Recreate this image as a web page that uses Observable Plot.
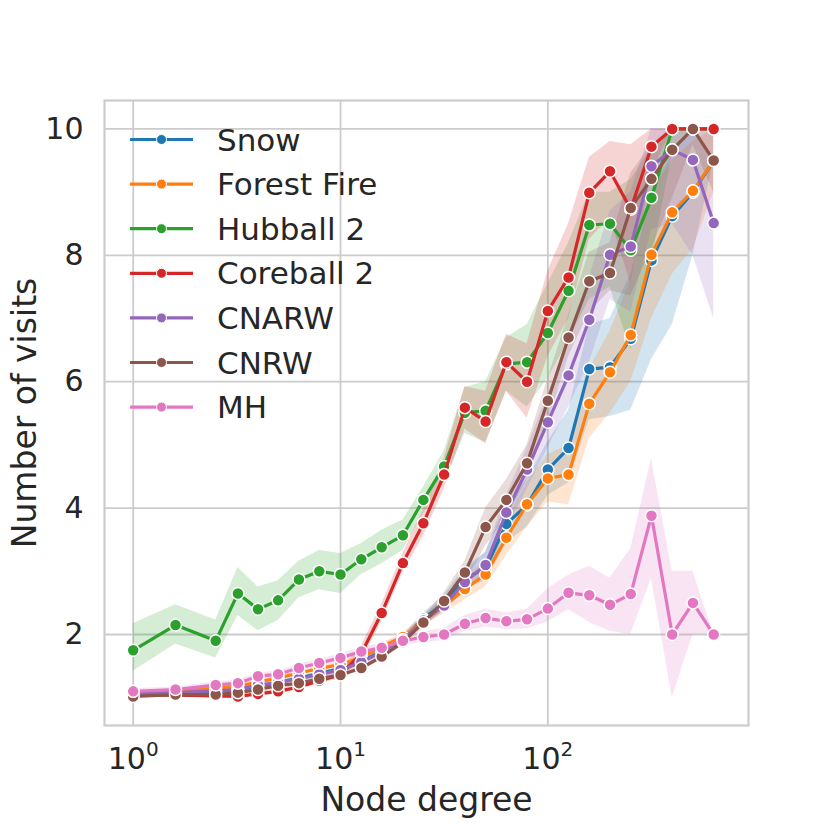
<!DOCTYPE html>
<html><head><meta charset="utf-8">
<script src="https://cdn.jsdelivr.net/npm/d3@7"></script>
<script src="https://cdn.jsdelivr.net/npm/@observablehq/plot@0.6"></script>
<style>body{margin:0;background:#fff} #chart{width:830px;height:830px}</style>
</head><body><div id="chart"></div><script>
const degrees = [1, 1.6, 2.5, 3.2, 4, 5, 6.3, 7.9, 10, 12.6, 15.8, 20, 25.1, 31.6, 39.8, 50.1, 63.1, 79.4, 100, 125.9, 158.5, 199.5, 251.2, 316.2, 398.1, 501.2, 631];
const seriesNames = ["Snow", "Forest Fire", "Hubball 2", "Coreball 2", "CNARW", "CNRW", "MH"];
const seriesColors = ["#1f77b4", "#ff7f0e", "#2ca02c", "#d62728", "#9467bd", "#8c564b", "#e377c2"];
const xTicks = [1, 10, 100];
const yTicks = [2, 4, 6, 8, 10];

const snowMean = [1.06,1.08,1.10,1.13,1.18,1.24,1.31,1.38,1.46,1.57,1.74,1.93,2.25,2.50,2.88,3.05,3.75,4.05,4.61,4.95,6.20,6.23,6.68,7.92,8.62,9.00,9.50];
const snowLo   = [1.03,1.05,1.07,1.10,1.15,1.21,1.28,1.35,1.42,1.52,1.68,1.87,2.16,2.38,2.72,2.85,3.45,3.70,4.20,4.40,5.40,5.45,5.55,6.35,6.90,8.00,9.50];
const snowHi   = [1.09,1.11,1.13,1.16,1.21,1.27,1.34,1.41,1.50,1.62,1.80,1.99,2.34,2.62,3.05,3.30,4.05,4.45,5.05,5.55,6.90,7.00,7.70,9.00,9.60,10,9.50];

const ffMean = [1.08,1.10,1.15,1.18,1.25,1.31,1.39,1.46,1.53,1.63,1.81,1.96,2.22,2.45,2.72,2.95,3.53,4.06,4.47,4.53,5.65,6.15,6.74,8.01,8.68,9.02,9.50];
const ffLo   = [1.05,1.07,1.12,1.15,1.22,1.28,1.36,1.43,1.49,1.58,1.76,1.90,2.14,2.33,2.55,2.75,3.25,3.70,4.10,4.05,5.10,5.50,6.00,7.00,7.70,8.10,9.00];
const ffHi   = [1.11,1.13,1.18,1.21,1.28,1.34,1.42,1.49,1.57,1.68,1.86,2.02,2.30,2.57,2.90,3.15,3.80,4.40,4.85,5.00,6.20,6.80,7.60,9.00,9.50,9.80,10];

const hubMean = [1.75,2.15,1.90,2.65,2.40,2.54,2.87,3.00,2.95,3.19,3.38,3.57,4.13,4.66,5.51,5.54,6.28,6.31,6.77,7.44,8.48,8.50,8.08,8.91,10,10,10];
const hubLo   = [1.42,1.85,1.63,2.30,2.06,2.22,2.58,2.71,2.65,2.95,3.12,3.33,3.91,4.40,5.18,5.04,5.85,5.60,6.05,6.65,7.30,7.50,6.50,7.90,9.60,10,10];
const hubHi   = [2.17,2.47,2.23,3.06,2.75,2.85,3.16,3.33,3.28,3.44,3.65,3.81,4.33,4.90,5.91,6.00,6.70,6.90,7.55,8.20,9.00,9.00,9.20,9.70,10,10,10];

const coreMean = [1.04,1.04,1.03,1.02,1.06,1.10,1.17,1.27,1.36,1.70,2.34,3.13,3.76,4.53,5.59,5.37,6.31,6.00,7.12,7.65,8.99,9.33,8.73,9.72,10,10,10];
const coreLo   = [1.00,1.01,1.00,0.99,1.03,1.06,1.13,1.22,1.30,1.58,2.20,2.98,3.55,4.30,5.25,5.02,5.85,5.42,6.40,7.00,8.25,8.60,7.55,9.30,10,10,10];
const coreHi   = [1.08,1.08,1.07,1.06,1.10,1.14,1.21,1.32,1.42,1.82,2.48,3.28,3.98,4.78,5.92,5.85,6.75,6.60,7.75,8.50,9.55,9.80,9.75,10,10,10,10];

const cnarwMean = [1.06,1.08,1.11,1.13,1.20,1.24,1.30,1.37,1.44,1.56,1.73,1.92,2.22,2.46,2.83,3.10,3.93,4.61,5.36,6.10,6.98,8.01,8.14,9.41,9.67,9.51,8.51];
const cnarwLo   = [1.03,1.05,1.08,1.10,1.16,1.20,1.26,1.33,1.40,1.51,1.68,1.86,2.14,2.36,2.68,2.90,3.65,4.30,4.95,5.60,6.30,7.30,7.10,8.40,8.50,8.00,7.00];
const cnarwHi   = [1.09,1.11,1.14,1.16,1.24,1.28,1.34,1.41,1.48,1.61,1.78,1.98,2.30,2.56,2.98,3.30,4.20,4.95,5.80,6.65,7.65,8.70,9.00,10,10,10,10];

const cnrwMean = [1.02,1.05,1.05,1.08,1.13,1.19,1.23,1.30,1.36,1.47,1.65,1.88,2.19,2.53,2.98,3.70,4.13,4.71,5.70,6.70,7.59,7.72,8.75,9.21,9.67,10.0,9.50];
const cnrwLo   = [0.99,1.02,1.02,1.05,1.10,1.16,1.20,1.26,1.32,1.42,1.60,1.82,2.10,2.40,2.80,3.40,3.85,4.45,5.35,6.40,7.10,7.44,7.36,8.10,8.90,9.75,9.00];
const cnrwHi   = [1.05,1.08,1.08,1.11,1.16,1.22,1.26,1.34,1.40,1.52,1.70,1.94,2.28,2.66,3.16,4.00,4.45,5.00,6.05,7.05,8.05,8.20,9.30,9.75,10,10,10];

const mhMean = [1.10,1.13,1.20,1.23,1.34,1.37,1.47,1.55,1.63,1.73,1.79,1.90,1.96,2.00,2.17,2.26,2.21,2.24,2.41,2.66,2.62,2.47,2.64,3.88,2.00,2.50,2.00];
const mhLo   = [1.06,1.09,1.15,1.18,1.29,1.32,1.41,1.49,1.57,1.66,1.72,1.82,1.88,1.90,2.05,2.12,2.08,2.09,2.20,2.39,2.19,2.05,2.00,2.89,1.00,2.00,2.00];
const mhHi   = [1.14,1.17,1.25,1.28,1.39,1.42,1.53,1.61,1.69,1.80,1.86,1.98,2.04,2.10,2.30,2.40,2.34,2.40,2.72,2.94,3.08,2.89,3.36,4.78,3.00,3.00,2.00];

const means = [snowMean, ffMean, hubMean, coreMean, cnarwMean, cnrwMean, mhMean];
const los = [snowLo, ffLo, hubLo, coreLo, cnarwLo, cnrwLo, mhLo];
const his = [snowHi, ffHi, hubHi, coreHi, cnarwHi, cnrwHi, mhHi];

const rows = [];
seriesNames.forEach((s, i) => degrees.forEach((d, j) => rows.push({series: s, degree: d, mean: means[i][j], lo: los[i][j], hi: his[i][j]})));

const FONT = "DejaVu Sans";
const TEXT = "#262626";
const GRID = "#cccccc";

const bands = seriesNames.map((s, i) =>
  Plot.areaY(rows.filter(r => r.series === s), {x: "degree", y1: "lo", y2: "hi", fill: seriesColors[i], fillOpacity: 0.2}));
const perSeries = seriesNames.flatMap((s, i) => {
  const data = rows.filter(r => r.series === s);
  return [
    Plot.line(data, {x: "degree", y: "mean", stroke: seriesColors[i], strokeWidth: 3.2}),
    Plot.dot(data, {x: "degree", y: "mean", fill: seriesColors[i], r: 6, stroke: "white", strokeWidth: 1.5})
  ];
});

const plot = Plot.plot({
  width: 830, height: 830,
  marginLeft: 104, marginRight: 82, marginTop: 100, marginBottom: 105,
  style: {fontFamily: FONT, fontSize: "30px", color: TEXT, background: "#fff", overflow: "visible"},
  x: {type: "log", domain: [0.727, 929]},
  y: {domain: [0.56, 10.45]},
  marks: [
    Plot.gridX(xTicks, {stroke: GRID, strokeOpacity: 1, strokeWidth: 1.8}),
    Plot.gridY(yTicks, {stroke: GRID, strokeOpacity: 1, strokeWidth: 1.8}),
    ...bands,
    ...perSeries,
    Plot.frame({stroke: GRID, strokeWidth: 2.2}),
    Plot.axisX(xTicks, {tickSize: 0, tickPadding: 22, fontSize: 30, tickFormat: d => "10^" + Math.round(Math.log10(d)), label: "Node degree", labelAnchor: "center", labelArrow: "none", labelOffset: 85, fill: TEXT}),
    Plot.axisY(yTicks, {tickSize: 0, tickPadding: 21, fontSize: 30, tickFormat: d => String(d), label: "Number of visits", labelAnchor: "center", labelArrow: "none", labelOffset: 92, fill: TEXT})
  ]
});

document.getElementById("chart").appendChild(plot);
const svg = d3.select(plot);

// superscript exponents on x tick labels
svg.selectAll('g[aria-label="x-axis tick label"] text').each(function() {
  const t = d3.select(this);
  const parts = t.text().split("^");
  if (parts.length === 2) {
    t.text(null);
    t.append("tspan").text(parts[0]);
    t.append("tspan").attr("dy", "-0.66em").attr("font-size", "20px").text(parts[1]);
  }
});
svg.selectAll('g[aria-label="x-axis label"] text, g[aria-label="y-axis label"] text').attr("font-size", "33px");

// legend (no frame), inside the plot area top-left
const legend = svg.append("g").attr("font-family", FONT).attr("font-size", "31px").attr("fill", TEXT).attr("text-anchor", "start");
seriesNames.forEach((s, i) => {
  const y = 139.5 + i * 44.6;
  const g = legend.append("g").attr("transform", `translate(0,${y})`);
  g.append("line").attr("x1", 130).attr("x2", 193).attr("y1", 0).attr("y2", 0).attr("stroke", seriesColors[i]).attr("stroke-width", 3.2);
  g.append("circle").attr("cx", 161.5).attr("cy", 0).attr("r", 5).attr("fill", seriesColors[i]).attr("stroke", "white").attr("stroke-width", 1);
  g.append("text").attr("x", 217).attr("y", 0).attr("dy", "0.36em").attr("text-anchor", "start").text(s);
});
</script></body></html>
